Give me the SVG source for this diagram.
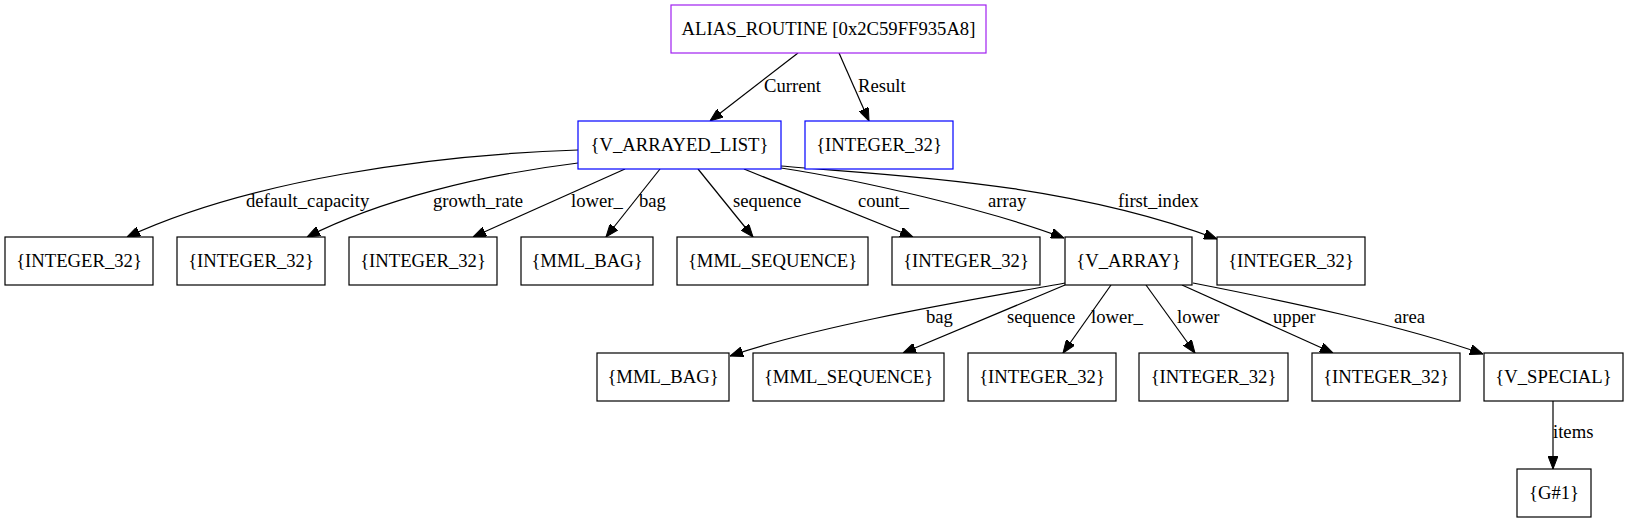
<svg xmlns="http://www.w3.org/2000/svg" width="1629" height="523" viewBox="0 0 1629 523">
<style>
rect{fill:#fff;stroke:#000;stroke-width:1.2}
.p{stroke:#a020f0}
.b{stroke:#0000ff}
text{font-family:"Liberation Serif","Times New Roman",serif;font-size:18.67px;fill:#000}
.n{text-anchor:middle}
#edges path{fill:none;stroke:#000;stroke-width:1.2;marker-end:url(#ah)}
</style>
<defs>
<marker id="ah" viewBox="0 0 13 10" refX="13" refY="5" markerWidth="13" markerHeight="10" markerUnits="userSpaceOnUse" orient="auto">
<path d="M0,0 L13,5 L0,10 z" fill="#000" stroke="#000"/>
</marker>
</defs>
<rect width="1629" height="523" style="fill:#fff;stroke:none"/>
<g id="edges">
<path d="M798,53 L710,121"/><text x="764" y="91.5">Current</text>
<path d="M839,53 L869,121"/><text x="858" y="91.5">Result</text>
<path d="M578,150 C430,155 250,180 127,237"/><text x="246" y="207">default_capacity</text>
<path d="M578,163 C480,175 380,200 307,237"/><text x="433" y="207">growth_rate</text>
<path d="M625,169 L473,237"/><text x="571" y="207">lower_</text>
<path d="M660,169 L606,237"/><text x="639" y="207">bag</text>
<path d="M698,169 L753,237"/><text x="733" y="207">sequence</text>
<path d="M744,169 L913,237"/><text x="858" y="207">count_</text>
<path d="M781,168 C860,180 990,210 1064,238"/><text x="988" y="207">array</text>
<path d="M781,166 C880,175 1060,180 1217,239"/><text x="1118" y="207">first_index</text>
<path d="M1065,283 C990,297 830,322 730,356"/><text x="926" y="323">bag</text>
<path d="M1065,285 L903,353"/><text x="1007" y="323">sequence</text>
<path d="M1111,285 L1063,353"/><text x="1091" y="323">lower_</text>
<path d="M1146,285 L1195,353"/><text x="1177" y="323">lower</text>
<path d="M1182,285 L1333,353"/><text x="1273" y="323">upper</text>
<path d="M1193,283 C1290,302 1400,325 1483,354"/><text x="1394" y="323">area</text>
<path d="M1553,401 L1553,469"/><text x="1553" y="438">items</text>
</g>
<g id="alias"><rect class="p" x="671" y="5" width="315" height="48"/><text class="n" x="828.5" y="35">ALIAS_ROUTINE [0x2C59FF935A8]</text></g>
<g id="varrayedlist"><rect class="b" x="578" y="121" width="203" height="48"/><text class="n" x="679.5" y="151">{V_ARRAYED_LIST}</text></g>
<g id="result"><rect class="b" x="805" y="121" width="148" height="48"/><text class="n" x="879" y="151">{INTEGER_32}</text></g>
<g id="n_default"><rect x="5" y="237" width="148" height="48"/><text class="n" x="79" y="267">{INTEGER_32}</text></g>
<g id="n_growth"><rect x="177" y="237" width="148" height="48"/><text class="n" x="251" y="267">{INTEGER_32}</text></g>
<g id="n_lower1"><rect x="349" y="237" width="148" height="48"/><text class="n" x="423" y="267">{INTEGER_32}</text></g>
<g id="n_bag1"><rect x="521" y="237" width="132" height="48"/><text class="n" x="587" y="267">{MML_BAG}</text></g>
<g id="n_seq1"><rect x="677" y="237" width="191" height="48"/><text class="n" x="772.5" y="267">{MML_SEQUENCE}</text></g>
<g id="n_count"><rect x="892" y="237" width="148" height="48"/><text class="n" x="966" y="267">{INTEGER_32}</text></g>
<g id="n_varray"><rect x="1065" y="237" width="127" height="48"/><text class="n" x="1128.5" y="267">{V_ARRAY}</text></g>
<g id="n_first"><rect x="1217" y="237" width="148" height="48"/><text class="n" x="1291" y="267">{INTEGER_32}</text></g>
<g id="n_bag2"><rect x="597" y="353" width="132" height="48"/><text class="n" x="663" y="383">{MML_BAG}</text></g>
<g id="n_seq2"><rect x="753" y="353" width="191" height="48"/><text class="n" x="848.5" y="383">{MML_SEQUENCE}</text></g>
<g id="n_lower2"><rect x="968" y="353" width="148" height="48"/><text class="n" x="1042" y="383">{INTEGER_32}</text></g>
<g id="n_lower3"><rect x="1139" y="353" width="149" height="48"/><text class="n" x="1213.5" y="383">{INTEGER_32}</text></g>
<g id="n_upper"><rect x="1312" y="353" width="148" height="48"/><text class="n" x="1386" y="383">{INTEGER_32}</text></g>
<g id="n_special"><rect x="1484" y="353" width="139" height="48"/><text class="n" x="1553.5" y="383">{V_SPECIAL}</text></g>
<g id="n_g1"><rect x="1517" y="469" width="74" height="48"/><text class="n" x="1554" y="499">{G#1}</text></g>
</svg>
